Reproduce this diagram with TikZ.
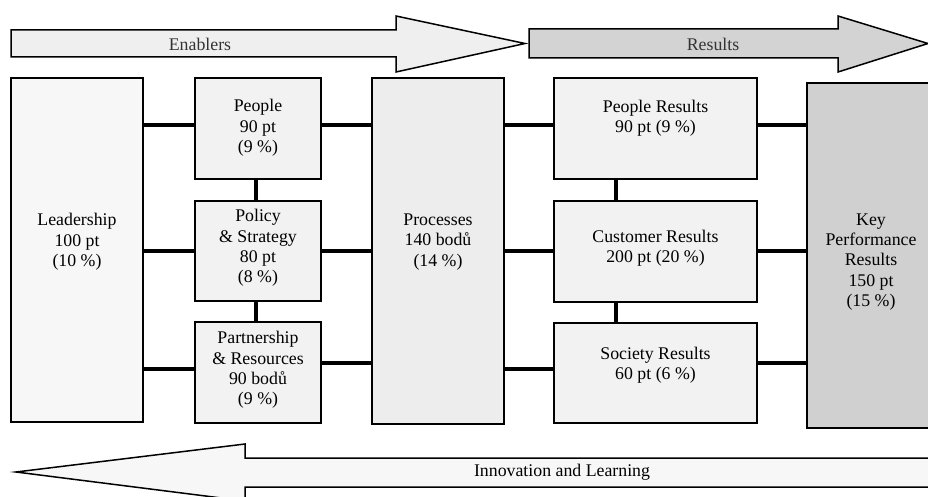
\documentclass[tikz,border=0pt]{standalone}
\usepackage{fontspec}
\setmainfont{Liberation Serif}
\definecolor{enfill}{HTML}{EFEFEF}
\definecolor{resfill}{HTML}{D3D3D3}
\definecolor{innfill}{HTML}{F7F7F7}
\definecolor{leadfill}{HTML}{F7F7F7}
\definecolor{smallfill}{HTML}{F2F2F2}
\definecolor{procfill}{HTML}{EDEDED}
\definecolor{kprfill}{HTML}{D0D0D0}
\definecolor{arrtext}{HTML}{333333}
\begin{document}
\begin{tikzpicture}[x=1pt,y=-1pt,
  font=\fontsize{17.8}{20.4}\selectfont,
  box/.style={draw=black, line width=2.2pt, outer sep=0pt, inner sep=0pt, anchor=north west},
  conn/.style={line width=4pt},
  arr/.style={draw=black, line width=1.5pt, line join=miter},
  lbl/.style={align=center, inner sep=0pt},
  arrlbl/.style={inner sep=0pt, text=arrtext}]
\useasboundingbox (0,0) rectangle (928,497);
\fill[white] (0,0) rectangle (928,497);

% top arrows
\draw[arr, fill=enfill] (11,30) -- (396,30) -- (396,16) -- (525,43.5) -- (396,72) -- (396,57) -- (11,57) -- cycle;
\node[arrlbl] (enablers) at (200,44) {Enablers};
\draw[arr, fill=resfill] (529,29) -- (838,29) -- (838,16) -- (928,43.5) -- (838,72) -- (838,58) -- (529,58) -- cycle;
\node[arrlbl] (results) at (713,44) {Results};

% bottom arrow
\draw[arr, fill=innfill] (16,472) -- (245,444) -- (245,458) -- (940,458) -- (940,487) -- (245,487) -- (245,501) -- cycle;
\node[arrlbl, text=black] (innov) at (562,472) {Innovation and Learning};

% helper coordinates for connector heights
\coordinate (yA) at (0,125);
\coordinate (yB) at (0,251);
\coordinate (yC) at (0,369);
\coordinate (yD) at (0,363);
\coordinate (xA) at (255.5,0);
\coordinate (xB) at (616,0);

% boxes
\node[box, fill=leadfill, minimum width=132pt, minimum height=344pt] (lead) at (11,78) {};
\node[box, fill=smallfill, minimum width=126pt, minimum height=101pt] (people) at (195,78) {};
\node[box, fill=smallfill, minimum width=126pt, minimum height=100pt] (policy) at (195,201) {};
\node[box, fill=smallfill, minimum width=126pt, minimum height=101pt] (partner) at (195,322) {};
\node[box, fill=procfill, minimum width=132pt, minimum height=346pt] (proc) at (372,78) {};
\node[box, fill=smallfill, minimum width=203pt, minimum height=101pt] (pr) at (554,78) {};
\node[box, fill=smallfill, minimum width=203pt, minimum height=101pt] (cr) at (554,201) {};
\node[box, fill=smallfill, minimum width=203pt, minimum height=100pt] (sr) at (554,323) {};
\node[box, fill=kprfill, minimum width=130pt, minimum height=345pt] (kpr) at (807,83) {};

% connectors
\draw[conn] (lead.east |- yA) -- (people.west |- yA);
\draw[conn] (lead.east |- yB) -- (policy.west |- yB);
\draw[conn] (lead.east |- yC) -- (partner.west |- yC);
\draw[conn] (people.east |- yA) -- (proc.west |- yA);
\draw[conn] (policy.east |- yB) -- (proc.west |- yB);
\draw[conn] (partner.east |- yD) -- (proc.west |- yD);
\draw[conn] (people.south -| xA) -- (policy.north -| xA);
\draw[conn] (policy.south -| xA) -- (partner.north -| xA);
\draw[conn] (proc.east |- yA) -- (pr.west |- yA);
\draw[conn] (proc.east |- yB) -- (cr.west |- yB);
\draw[conn] (proc.east |- yC) -- (sr.west |- yC);
\draw[conn] (pr.east |- yA) -- (kpr.west |- yA);
\draw[conn] (cr.east |- yB) -- (kpr.west |- yB);
\draw[conn] (sr.east |- yD) -- (kpr.west |- yD);
\draw[conn] (pr.south -| xB) -- (cr.north -| xB);
\draw[conn] (cr.south -| xB) -- (sr.north -| xB);

% labels
\node[lbl] (leadT) at (77,242) {Leadership\\100 pt\\(10 \%)};
\node[lbl] (peopleT) at (258,128) {People\\90 pt\\(9 \%)};
\node[lbl] (policyT) at (258,248) {Policy\\\& Strategy\\80 pt\\(8 \%)};
\node[lbl] (partnerT) at (258,370) {Partnership\\\& Resources\\90 bodů\\(9 \%)};
\node[lbl] (procT) at (438,242) {Processes\\140 bodů\\(14 \%)};
\node[lbl] (prT) at (655.5,118) {People Results\\90 pt (9 \%)};
\node[lbl] (crT) at (655.5,248) {Customer Results\\200 pt (20 \%)};
\node[lbl] (srT) at (655.5,365.5) {Society Results\\60 pt (6 \%)};
\node[lbl] (kprT) at (871,262) {Key\\Performance\\Results\\150 pt\\(15 \%)};
\end{tikzpicture}
\end{document}
